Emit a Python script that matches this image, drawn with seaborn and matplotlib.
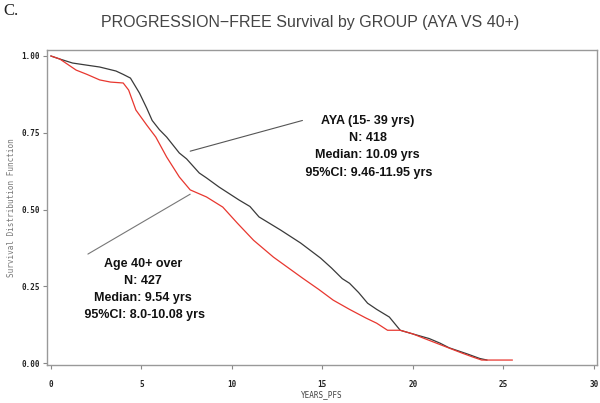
import pandas as pd
import seaborn as sns
import matplotlib.pyplot as plt

# Kaplan-Meier values
aya_years = [0, 0.5, 1.2, 2.0, 2.7, 3.6, 4.0, 4.4, 4.9, 5.3, 5.6, 6.0, 6.4, 7.1, 7.5,
             8.2, 8.6, 9.3, 10.4, 11.0, 11.5, 12.7, 13.8, 14.9, 15.5, 16.1, 16.5,
             17.0, 17.5, 18.0, 18.7, 19.3, 20.0, 20.9, 21.5, 22.0, 22.5, 23.0, 23.7, 24.1]
aya_surv = [1.0, 0.99, 0.977, 0.97, 0.964, 0.951, 0.94, 0.928, 0.879, 0.83, 0.79, 0.76,
            0.736, 0.684, 0.665, 0.619, 0.603, 0.573, 0.531, 0.51, 0.476, 0.433, 0.391,
            0.342, 0.31, 0.275, 0.26, 0.23, 0.195, 0.175, 0.15, 0.107, 0.095, 0.08,
            0.065, 0.05, 0.04, 0.03, 0.015, 0.01]

old_years = [0, 0.5, 1.0, 1.4, 2.0, 2.7, 3.3, 4.0, 4.3, 4.7, 5.3, 5.8, 6.4, 7.1, 7.7,
             8.6, 9.5, 10.3, 11.2, 12.3, 13.9, 14.8, 15.6, 16.5, 17.4, 18.0, 18.6,
             19.3, 20.0, 20.6, 21.3, 22.0, 22.7, 23.3, 23.8, 25.5]
old_surv = [1.0, 0.99, 0.97, 0.954, 0.94, 0.922, 0.915, 0.912, 0.889, 0.824, 0.775,
            0.736, 0.671, 0.606, 0.564, 0.541, 0.508, 0.456, 0.40, 0.345, 0.277, 0.24,
            0.205, 0.175, 0.147, 0.13, 0.107, 0.107, 0.095, 0.081, 0.065, 0.049, 0.033,
            0.02, 0.01, 0.01]

groups = ['AYA', 'Age 40+']
x_ticks = [0, 5, 10, 15, 20, 25, 30]
y_ticks = [0.0, 0.25, 0.5, 0.75, 1.0]

aya_text = ['AYA (15- 39 yrs)', 'N: 418', 'Median: 10.09 yrs', ' 95%CI: 9.46-11.95 yrs']
old_text = ['Age 40+ over', 'N: 427', 'Median: 9.54 yrs', ' 95%CI: 8.0-10.08 yrs']

df = pd.concat([
    pd.DataFrame({'YEARS_PFS': aya_years, 'surv': aya_surv, 'group': groups[0]}),
    pd.DataFrame({'YEARS_PFS': old_years, 'surv': old_surv, 'group': groups[1]}),
])

sns.set_style('white')
plt.rcParams['font.family'] = ['Liberation Sans', 'DejaVu Sans']

fig = plt.figure(figsize=(6, 4.03), dpi=100)
ax = fig.add_axes([0.078, 0.094, 0.917, 0.782])

sns.lineplot(data=df, x='YEARS_PFS', y='surv', hue='group', estimator=None,
             palette={'AYA': '#3a3a3a', 'Age 40+': '#e8372f'},
             linewidth=0.9, legend=False, ax=ax)

ax.set_xlim(-0.22, 30.17)
ax.set_ylim(-0.0065, 1.0195)
ax.set_xticks(x_ticks)
ax.set_yticks(y_ticks)
ax.set_xticklabels([str(t) for t in x_ticks], family='DejaVu Sans Mono',
                   fontsize=5.5, fontweight='bold', color='#222')
ax.set_yticklabels([f'{t:.2f}' for t in y_ticks], family='DejaVu Sans Mono',
                   fontsize=5.5, fontweight='bold', color='#222')
ax.tick_params(axis='both', direction='out', length=3, width=0.8, color='#888',
               left=True, bottom=True)
ax.tick_params(axis='x', pad=8)
ax.tick_params(axis='y', pad=2)
for s in ax.spines.values():
    s.set_color('#999')
    s.set_linewidth(1.0)

ax.set_xlabel('YEARS_PFS', family='DejaVu Sans Mono', fontsize=5.5, color='#444',
              va='center')
ax.xaxis.set_label_coords(0.5, -0.095)
ax.set_ylabel('Survival Distribution Function', family='DejaVu Sans Mono',
              fontsize=5.5, color='#777', labelpad=4)

fig.text(0.517, 0.945, 'PROGRESSION\u2212FREE Survival by GROUP (AYA VS 40+)',
         ha='center', va='center', fontsize=11.5, color='#444')
fig.text(0.005, 0.972, 'C.', family='Liberation Serif', fontsize=12,
         ha='left', va='center', color='#222')

# annotation leader lines and text blocks
ax.plot([7.7, 13.9], [0.69, 0.79], color='#555', linewidth=0.8)
ax.plot([7.7, 2.05], [0.55, 0.355], color='#777', linewidth=0.8)
for i, line in enumerate(aya_text):
    ax.text(17.5, 0.787 - i * 0.0555, line, ha='center', va='center',
            fontsize=9, fontweight='bold', color='#111')
for i, line in enumerate(old_text):
    ax.text(5.1, 0.322 - i * 0.0555, line, ha='center', va='center',
            fontsize=9, fontweight='bold', color='#111')

fig.savefig('out.png', dpi=100)
